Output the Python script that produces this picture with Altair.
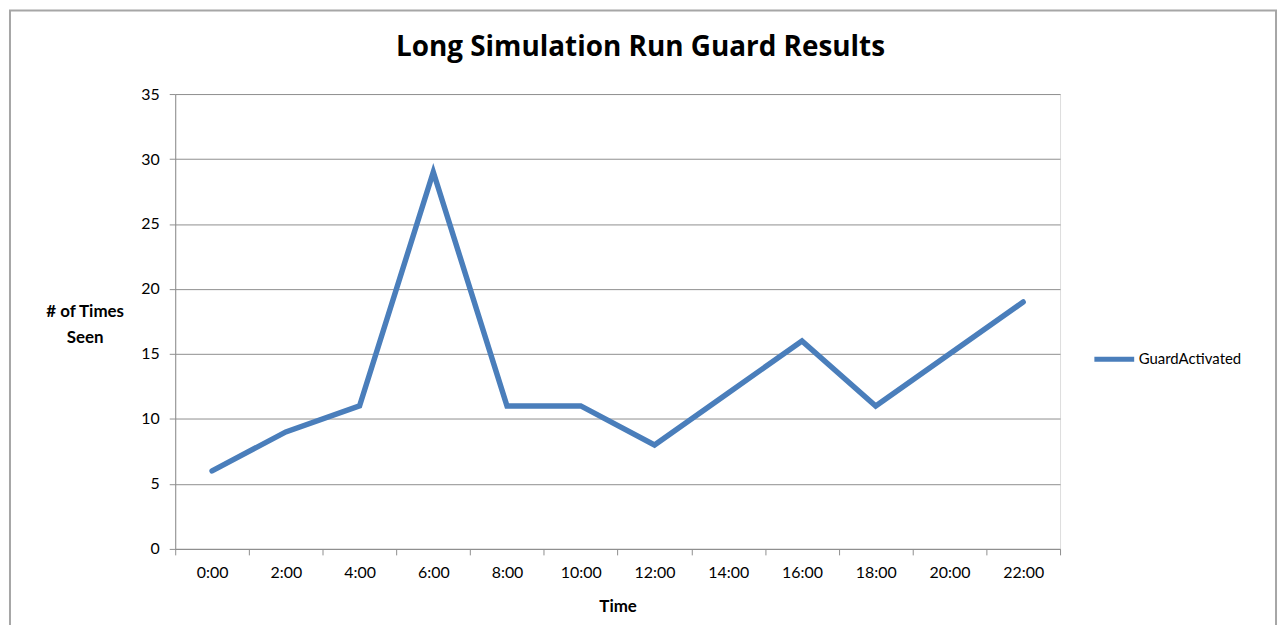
import altair as alt
import pandas as pd

times = ["0:00", "2:00", "4:00", "6:00", "8:00", "10:00", "12:00",
         "14:00", "16:00", "18:00", "20:00", "22:00"]
counts = [6, 9, 11, 29, 11, 11, 8, 12, 16, 11, 15, 19]
series_name = "GuardActivated"
y_ticks = [0, 5, 10, 15, 20, 25, 30, 35]

df = pd.DataFrame({"Time": times, "Count": counts, "Series": [series_name] * len(times)})

FONT = "Lato"
TITLE_FONT = "Open Sans"
LINE_COLOR = "#4a7ebb"
GRAY = "#8e8e8e"

frame = alt.Chart(pd.DataFrame({"f": [0]})).mark_rect(
    fillOpacity=0, stroke="#a6a6a6", strokeWidth=2
).encode(
    x=alt.value(-166), x2=alt.value(1106), y=alt.value(-84), y2=alt.value(700)
)

line = alt.Chart(df).mark_line(
    strokeWidth=5.5, strokeJoin="miter", strokeCap="round"
).encode(
    x=alt.X(
        "Time:O", sort=times, bandPosition=0.5,
        scale=alt.Scale(type="band", paddingInner=0, paddingOuter=0),
        axis=alt.Axis(
            title="Time", labelAngle=0, grid=False, tickBand="extent",
            domainColor=GRAY, tickColor=GRAY, tickSize=6, labelPadding=10,
            labelFont=FONT, labelFontSize=16, labelColor="#000000",
            titleFont=FONT, titleFontSize=17, titleFontWeight="bold",
            titleColor="#000000", titleY=63, titleBaseline="alphabetic",
        ),
    ),
    y=alt.Y(
        "Count:Q",
        scale=alt.Scale(domain=[0, 35]),
        axis=alt.Axis(
            values=y_ticks, title=["# of Times", "Seen"], titleAngle=0,
            titleX=-91, titleY=224, titleAlign="center", titleBaseline="alphabetic",
            titleFont=FONT, titleFontSize=17, titleFontWeight="bold",
            titleColor="#000000", titleLineHeight=26,
            grid=True, gridColor=GRAY, domainColor=GRAY, tickColor=GRAY,
            tickSize=6, labelPadding=10,
            labelFont=FONT, labelFontSize=16, labelColor="#000000",
        ),
    ),
    color=alt.Color(
        "Series:N",
        scale=alt.Scale(range=[LINE_COLOR]),
        legend=alt.Legend(
            title=None, orient="none", legendX=921, legendY=244,
            symbolType="stroke", symbolSize=1600, symbolStrokeWidth=5,
            symbolStrokeColor=LINE_COLOR,
            labelFont=FONT, labelFontSize=15, labelColor="#000000", labelOffset=2,
        ),
    ),
)

chart = alt.layer(frame, line).properties(
    width=889,
    height=457,
    title=alt.TitleParams(
        "Long Simulation Run Guard Results", font=TITLE_FONT, fontSize=28,
        fontWeight="bold", color="#000000", offset=34, dy=87, dx=23, anchor="middle",
    ),
    autosize=alt.AutoSizeParams(type="none"),
    padding={"left": 168, "top": 85, "right": 221, "bottom": 75},
).configure_view(stroke=None).configure(font=FONT)

chart.save("out.html", embed_options={"renderer": "svg", "actions": False})
